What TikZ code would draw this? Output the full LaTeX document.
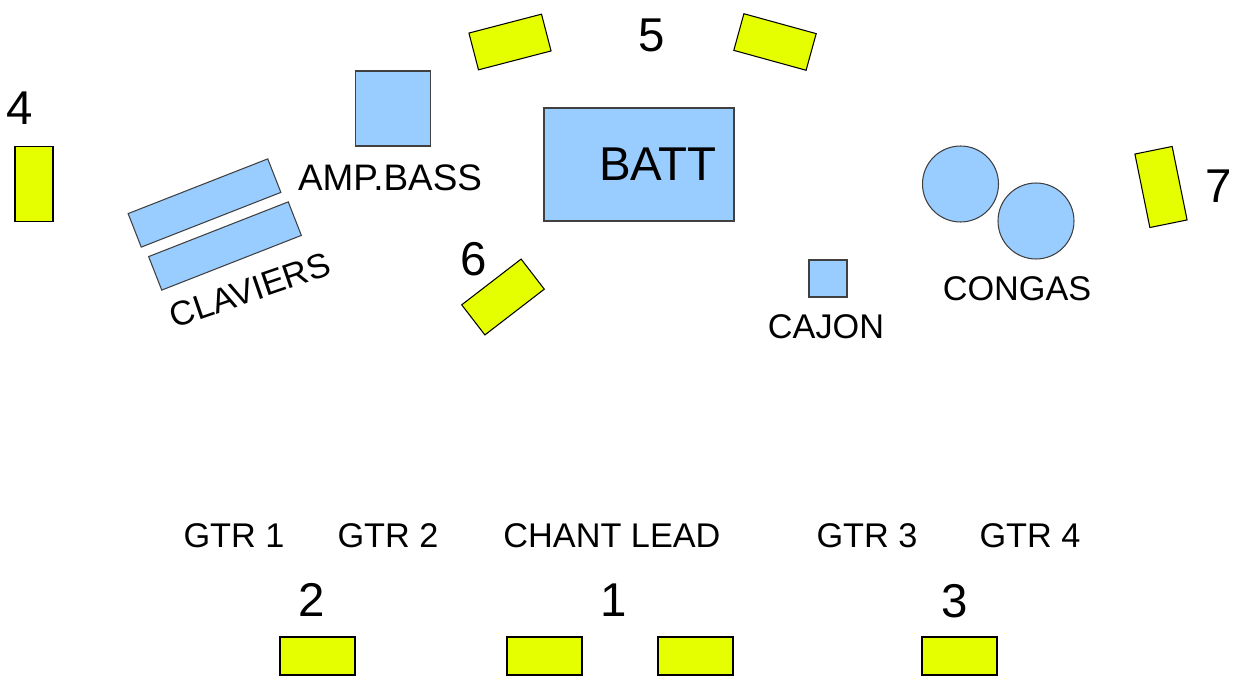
\documentclass[tikz,border=0pt]{standalone}
\usepackage{fontspec}
\setmainfont{Liberation Sans}
\usepackage{tikz}
\usepackage[dvipsnames, svgnames, x11names]{xcolor}
\definecolor{wedgeyellow}{RGB}{230,255,0}
\definecolor{gearblue}{RGB}{153,204,255}

\begin{document}
\begin{tikzpicture}[x=0.02cm, y=-0.02cm,
  wedge/.style={draw=black, fill=wedgeyellow, line width=0.6pt, minimum width=1.5cm, minimum height=0.76cm, inner sep=0pt},
  gear/.style={draw=black!75, fill=gearblue, line width=0.6pt, inner sep=0pt},
  num/.style={font=\fontsize{27}{27}\selectfont, inner sep=0pt},
  lbl/.style={font=\fontsize{19.5}{19.5}\selectfont, inner sep=0pt}]
\useasboundingbox (0,0) rectangle (1242,679);

\node[wedge, rotate=90] (w4) at (34,184) {};
\node[num] (n4) at (20,108) {4};

\node[wedge, rotate=14.6] (w5a) at (510,42) {};
\node[wedge, rotate=-15.4] (w5b) at (775,42) {};
\node[num] (n5) at (652,35) {5};

\node[wedge, rotate=37.6] (w6) at (503,297) {};
\node[num] (n6) at (474,259) {6};

\node[wedge, rotate=101.5] (w7) at (1161,187) {};
\node[num] (n7) at (1219,186) {7};

\node[wedge] (w2) at (317.5,656) {};
\node[num] (n2) at (312,600) {2};
\node[wedge] (w1a) at (544.5,656) {};
\node[wedge] (w1b) at (695.5,656) {};
\node[num] (n1) at (614,600) {1};
\node[wedge] (w3) at (959.5,656) {};
\node[num] (n3) at (955,601) {3};



\node[gear, minimum width=3cm, minimum height=0.72cm, rotate=21.4] (kbd1) at (204.5,203) {};
\node[gear, minimum width=3cm, minimum height=0.72cm, rotate=21.4] (kbd2) at (225,246) {};
\node[lbl, rotate=19] (kbdl) at (250,290) {CLAVIERS};

\node[gear, minimum width=1.5cm, minimum height=1.5cm] (amp) at (393,108.5) {};
\node[lbl, font=\fontsize{21}{21}\selectfont] (ampl) at (390,178) {AMP.BASS};

\node[gear, minimum width=3.8cm, minimum height=2.26cm] (batt) at (639,164.5) {};
\node[num] (battl) at (658,164) {BATT};

\node[gear, minimum width=0.76cm, minimum height=0.74cm] (cajon) at (828,278.5) {};
\node[lbl] (cajonl) at (826,327) {CAJON};

\node[gear, circle, minimum size=1.52cm] (conga1) at (960.5,184) {};
\node[gear, circle, minimum size=1.52cm] (conga2) at (1036,221) {};
\node[lbl] (congasl) at (1017,289) {CONGAS};

\node[lbl] (gtr1) at (234,536) {GTR 1};
\node[lbl] (gtr2) at (388,536) {GTR 2};
\node[lbl] (lead) at (612,536) {CHANT LEAD};
\node[lbl] (gtr3) at (867,536) {GTR 3};
\node[lbl] (gtr4) at (1030,536) {GTR 4};

\end{tikzpicture}
\end{document}
